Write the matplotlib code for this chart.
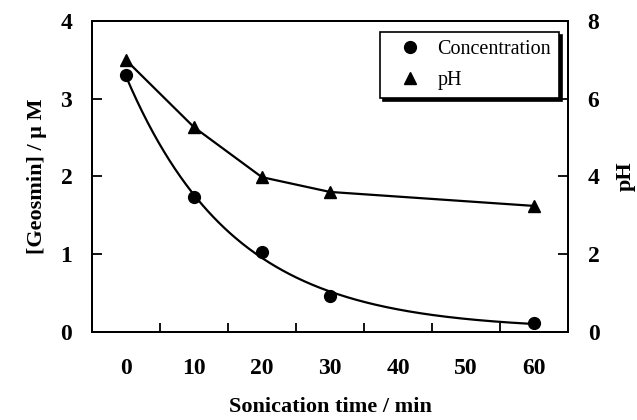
import numpy as np
import matplotlib
matplotlib.use('Agg')
import matplotlib.pyplot as plt
from matplotlib.lines import Line2D

# data
time_min = [0, 10, 20, 30, 60]
conc_uM = [3.30, 1.73, 1.03, 0.46, 0.11]
ph_vals = [7.00, 5.27, 3.98, 3.60, 3.24]
x_labels = ['0', '10', '20', '30', '40', '50', '60']

plt.rcParams['font.family'] = ['Liberation Serif', 'DejaVu Serif']


def exp_fit(x, y):
    # y = a*exp(-k x) + b, grid over k, least squares for a, b
    x = np.asarray(x, float)
    y = np.asarray(y, float)
    best = None
    for k in np.linspace(0.005, 0.3, 600):
        A = np.column_stack([np.exp(-k * x), np.ones_like(x)])
        coef, res, _, _ = np.linalg.lstsq(A, y, rcond=None)
        err = np.sum((A @ coef - y) ** 2)
        if best is None or err < best[0]:
            best = (err, k, coef)
    return best[1], best[2]


fig = plt.figure(figsize=(6.37, 4.2), dpi=100)
ax = fig.add_axes([0.144, 0.21, 0.748, 0.74])
ax2 = ax.twinx()

xs = np.linspace(0, 60, 300)
k, (a, b) = exp_fit(time_min, conc_uM)
ax.plot(xs, a * np.exp(-k * xs) + b, color='black', lw=1.6)
ax.plot(time_min, conc_uM, 'o', color='black', ms=8.5)

# pH line is drawn point to point
ax2.plot(time_min, ph_vals, '-', color='black', lw=1.6, solid_joinstyle='round')
ax2.plot(time_min, ph_vals, '^', color='black', ms=9)

ax.set_xlim(-5, 65)
ax.set_ylim(0, 4)
ax2.set_ylim(0, 8)

ax.set_xticks(range(0, 61, 10))
ax.set_xticklabels(x_labels)
ax.set_xticks(range(5, 60, 10), minor=True)
ax.tick_params(axis='x', which='major', length=0, pad=19, labelsize=17)
ax.tick_params(axis='x', which='minor', direction='in', length=6.5, width=1.3)
ax.set_yticks([0, 1, 2, 3, 4])
ax.tick_params(axis='y', direction='in', length=7, width=1.3, pad=14, labelsize=17)
ax2.set_yticks([0, 2, 4, 6, 8])
ax2.tick_params(axis='y', direction='in', length=7, width=1.3, pad=14, labelsize=17)
for lab in ax.get_xticklabels() + ax.get_yticklabels() + ax2.get_yticklabels():
    lab.set_fontweight('bold')

for sp in list(ax.spines.values()) + list(ax2.spines.values()):
    sp.set_linewidth(1.4)

ax.set_xlabel('Sonication time / min', fontsize=16, fontweight='bold', labelpad=13)
ax.set_ylabel('[Geosmin] / \u03bc M', fontsize=16, fontweight='bold', labelpad=10)
ax2.set_ylabel('pH', fontsize=16, fontweight='bold', labelpad=12)

handles = [Line2D([], [], ls='none', marker='o', color='black', ms=8.5),
           Line2D([], [], ls='none', marker='^', color='black', ms=9)]
leg = ax.legend(handles, ['Concentration', 'pH'], loc='upper right',
                bbox_to_anchor=(0.981, 0.965), fontsize=14.5, frameon=True,
                fancybox=False, shadow={'color': 'black', 'alpha': 1},
                handlelength=2.2, handletextpad=0.25, borderpad=0.4,
                labelspacing=0.6, borderaxespad=0)
leg.get_frame().set_edgecolor('black')
leg.get_frame().set_linewidth(1.2)
leg.get_frame().set_alpha(1)

fig.savefig('out.png', dpi=100)
